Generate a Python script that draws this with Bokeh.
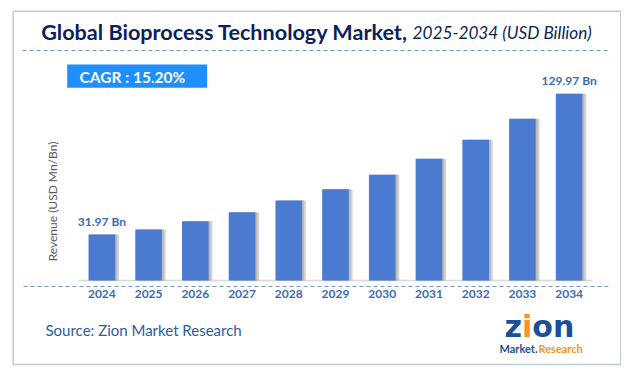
from bokeh.plotting import figure
from bokeh.models import ColumnDataSource, Range1d, Label, BoxAnnotation
from bokeh.transform import dodge
from bokeh.core.properties import value
from bokeh.embed import file_html
from bokeh.resources import INLINE
import math

years = ["2024", "2025", "2026", "2027", "2028", "2029", "2030", "2031", "2032", "2033", "2034"]
revenue = [31.97, 35.5, 41.3, 47.5, 55.7, 63.6, 73.6, 84.7, 97.9, 112.6, 129.97]
bar_labels = ["31.97 Bn", "", "", "", "", "", "", "", "", "", "129.97 Bn"]
title_main = "Global Bioprocess Technology Market,"
title_sub = "2025-2034 (USD Billion)"
cagr_text = "CAGR :  15.20%"
y_title = "Revenue (USD Mn/Bn)"
source_text = "Source: Zion Market Research"

FONT = "Lato"
W, H = 621, 368
# plot-area geometry (pixels within the canvas)
AX_LEFT, AX_RIGHT, AX_BASE = 78, 592, 280
PX_PER_UNIT = 1.4365
slot = (AX_RIGHT - AX_LEFT) / len(years)

xpos = [i + 0.5 for i in range(len(years))]
src = ColumnDataSource(dict(x=xpos, years=years, revenue=revenue, lbl=bar_labels,
                            zero=[0] * len(years)))

p = figure(width=W, height=H,
           x_range=Range1d(-AX_LEFT / slot, (W - AX_LEFT) / slot),
           y_range=Range1d(-(H - AX_BASE) / PX_PER_UNIT, AX_BASE / PX_PER_UNIT),
           output_backend="svg", toolbar_location=None,
           min_border=0, min_border_left=0, min_border_right=0,
           min_border_top=0, min_border_bottom=0)
p.outline_line_color = None
p.xaxis.visible = False
p.yaxis.visible = False
p.xgrid.visible = False
p.ygrid.visible = False
p.background_fill_color = "white"
p.border_fill_color = "white"

def sy(py):
    return H - py

def dx(px):  # canvas pixel -> data x
    return (px - AX_LEFT) / slot

def dy(py):  # canvas pixel -> data y
    return (AX_BASE - py) / PX_PER_UNIT

def box(l, r, t, b, **kw):
    return BoxAnnotation(left=l, right=r, top=sy(t), bottom=sy(b),
                         left_units="screen", right_units="screen",
                         top_units="screen", bottom_units="screen", **kw)

def label(x, y, text, **kw):
    kw.setdefault("text_baseline", "middle")
    kw.setdefault("text_font", FONT)
    return Label(x=x, y=sy(y), x_units="screen", y_units="screen", text=text, **kw)

# baseline of the category axis
p.segment(x0=[dx(AX_LEFT)], y0=[0], x1=[dx(AX_RIGHT)], y1=[0],
          line_color="#d9d9d9", line_width=1.5)
# dashed separators
p.segment(x0=[dx(22), dx(23)], y0=[dy(50), dy(286)], x1=[dx(608), dx(610)],
          y1=[dy(50), dy(286)], line_color="#7396d3", line_width=1.2, line_dash="4 3")

# shadows and bars
p.vbar(x=dodge("x", 0.08), top="revenue", width=0.57, source=src,
       fill_color="#9e9e9e", fill_alpha=0.45, line_color=None)
p.vbar(x=dodge("x", 0.04), top="revenue", width=0.57, source=src,
       fill_color="#8a8a8a", fill_alpha=0.35, line_color=None)
p.vbar(x="x", top="revenue", width=0.57, source=src,
       fill_color="#4a7bd1", line_color=None)
p.text(x="x", y="revenue", text="lbl", source=src, y_offset=-6,
       text_align="center", text_baseline="bottom",
       text_font=value(FONT), text_font_style="bold", text_font_size="12px",
       text_color="#3b6bb0")
# category labels
p.text(x="x", y="zero", text="years", source=src, y_offset=9,
       text_align="center", text_baseline="top",
       text_font=value(FONT), text_font_style="bold", text_font_size="12px",
       text_color="#3b6bb5")

# outer frame
p.add_layout(box(12.7, 620.3, 10.7, 364, fill_alpha=0, line_color="#24507e", line_width=1.5))
# CAGR box
p.add_layout(box(66.7, 206.7, 64, 87.3, fill_color="#1e8fff", fill_alpha=1, line_color=None))
p.add_layout(label(79, 76.5, cagr_text, text_font_style="bold", text_font_size="15.5px",
                   text_color="white"))
# title
p.add_layout(label(40.7, 31.5, title_main, text_font_style="bold", text_font_size="21.6px",
                   text_color="#0c1f5a"))
p.add_layout(label(412, 32, title_sub, text_font_style="italic", text_font_size="17.2px",
                   text_color="#0c1f5a"))
# y title
p.add_layout(label(52, 201, y_title, angle=math.pi / 2, text_align="center",
                   text_font_size="12px", text_color="#595959"))
# source
p.add_layout(label(45, 329, source_text, text_font_size="15px", text_color="#2e5c9e"))
# logo
for lx, part, col in [(504, "z", "#1b4f9a"), (521.5, "i", "#f0962a"), (531.8, "on", "#1b4f9a")]:
    p.add_layout(label(lx, 326, part, text_align="left",
                       text_font="DejaVu Sans", text_font_style="bold", text_font_size="30px",
                       text_color=col))
p.add_layout(label(537, 347.5, "Market.", text_align="right",
                   text_font_style="bold", text_font_size="11px", text_color="#1b4f9a"))
p.add_layout(label(538, 347.5, "Research", text_align="left",
                   text_font_style="bold", text_font_size="11px", text_color="#f0962a"))

open("out.html", "w").write(file_html(p, INLINE))
